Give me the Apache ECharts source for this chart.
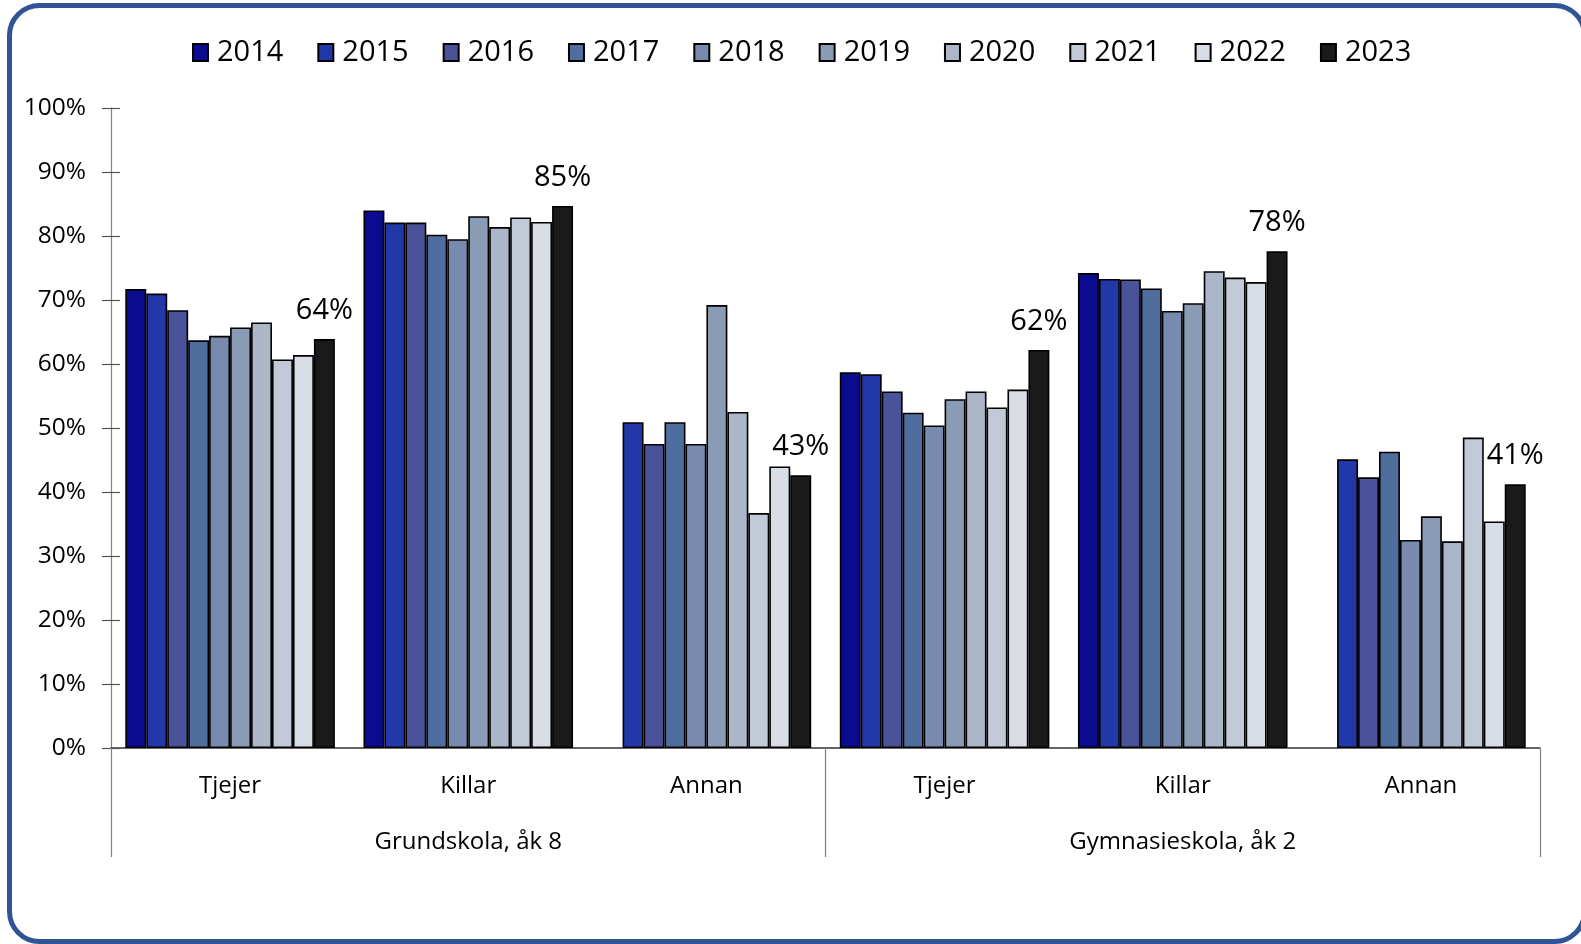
<!DOCTYPE html>
<html>
<head>
<meta charset="utf-8">
<script src="https://cdn.jsdelivr.net/npm/echarts@6/dist/echarts.min.js"></script>
<style>
html,body{margin:0;padding:0;background:#fff;}
#chart{width:1581px;height:944px;}
</style>
</head>
<body>
<div id="chart"></div>
<script>
const categories = ['Tjejer','Killar','Annan','Tjejer','Killar','Annan'];
const groups = ['Grundskola, åk 8','Gymnasieskola, åk 2'];
const years = ['2014','2015','2016','2017','2018','2019','2020','2021','2022','2023'];
const yTicks = [0,10,20,30,40,50,60,70,80,90,100];

const v2014 = [71.7, 84.0, null, 58.7, 74.2, null];
const v2015 = [71.0, 82.1, 50.9, 58.4, 73.3, 45.1];
const v2016 = [68.4, 82.1, 47.5, 55.7, 73.2, 42.3];
const v2017 = [63.7, 80.2, 50.9, 52.4, 71.8, 46.3];
const v2018 = [64.4, 79.5, 47.5, 50.4, 68.3, 32.5];
const v2019 = [65.7, 83.1, 69.2, 54.5, 69.5, 36.2];
const v2020 = [66.5, 81.4, 52.5, 55.7, 74.5, 32.3];
const v2021 = [60.7, 82.9, 36.7, 53.2, 73.5, 48.5];
const v2022 = [61.4, 82.2, 44.0, 56.0, 72.8, 35.4];
const v2023 = [63.9, 84.7, 42.6, 62.2, 77.6, 41.2];

const seriesValues = [v2014,v2015,v2016,v2017,v2018,v2019,v2020,v2021,v2022,v2023];
const colors = ['#0B0B8F','#2338A8','#4A529A','#4F6E9E','#788BAE','#8A9CB5','#ABB6C8','#C2CAD7','#D8DDE6','#1A1A1A'];

const FONT = '"Open Sans", "Noto Sans", sans-serif';

const chart = echarts.init(document.getElementById('chart'), null, {renderer:'canvas'});

const series = years.map((y,i)=>({
  name: y,
  type: 'bar',
  xAxisIndex: 0,
  yAxisIndex: 0,
  data: seriesValues[i],
  barGap: '0%',
  barCategoryGap: '12%',
  itemStyle: {color: colors[i], borderColor: '#000', borderWidth: 1.6},
  label: i === years.length-1 ? {
    show: true,
    position: 'top',
    distance: 14,
    formatter: p => Math.round(p.value) + '%',
    fontFamily: FONT,
    fontSize: 29,
    color: '#000'
  } : {show:false}
}));

chart.setOption({
  backgroundColor: '#fff',
  animation: false,
  legend: {
    top: 33,
    left: 187,
    icon: 'rect',
    itemWidth: 15,
    itemHeight: 17,
    itemGap: 34,
    textStyle: {fontFamily: FONT, fontSize: 29, color: '#000', padding: [0,0,0,4]},
    data: years
  },
  grid: {left: 111, right: 41, top: 108, bottom: 196},
  xAxis: [
    {
      type: 'category',
      data: categories,
      position: 'bottom',
      axisLine: {show: true, lineStyle: {color: '#333', width: 1.5}},
      axisTick: {show: false},
      axisLabel: {margin: 26, fontFamily: FONT, fontSize: 24, color: '#000', interval: 0}
    },
    {
      type: 'category',
      data: groups,
      position: 'bottom',
      axisLine: {show: false},
      axisTick: {show: true, length: 109, lineStyle: {color: '#808080', width: 1.2}},
      axisLabel: {margin: 82, fontFamily: FONT, fontSize: 24, color: '#000', interval: 0}
    }
  ],
  yAxis: [
    {
      type: 'value',
      min: 0, max: 100, interval: 10,
      axisLine: {show: true, lineStyle: {color: '#808080', width: 1.2}},
      axisTick: {show: true, length: 9, lineStyle: {color: '#555', width: 1.2}},
      splitLine: {show: false},
      axisLabel: {margin: 25, formatter: '{value}%', fontFamily: FONT, fontSize: 24.5, color: '#000'}
    },
    {
      type: 'value',
      position: 'left',
      min: 0, max: 100, interval: 10,
      axisLine: {show: false},
      axisTick: {show: true, inside: true, length: 9, lineStyle: {color: '#555', width: 1.2}},
      splitLine: {show: false},
      axisLabel: {show: false}
    }
  ],
  series: series,
  graphic: [{
    type: 'rect',
    shape: {x: 9.5, y: 5.5, width: 1575, height: 936, r: 30},
    style: {fill: 'none', stroke: '#2F5597', lineWidth: 5},
    z: 100,
    silent: true
  }]
});
</script>
</body>
</html>
